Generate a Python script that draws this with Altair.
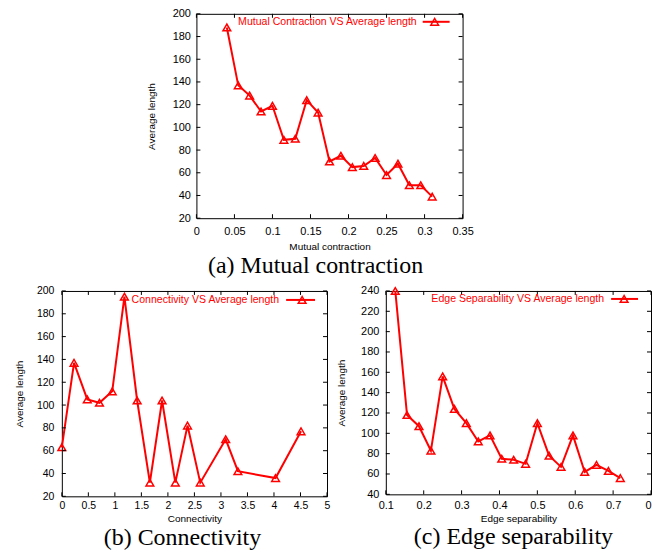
import altair as alt
import pandas as pd

# (a) Mutual contraction
mc_x = [0.04, 0.055, 0.07, 0.085, 0.1, 0.115, 0.13, 0.145, 0.16, 0.175, 0.19, 0.205, 0.22, 0.235, 0.25, 0.265, 0.28, 0.295, 0.31]
mc_y = [188, 137, 128, 114, 119, 89, 90, 124, 113, 70, 75, 65, 66, 73, 58, 68, 49, 49, 39]
mc_xticks = [0, 0.05, 0.1, 0.15, 0.2, 0.25, 0.3, 0.35]
mc_yticks = [20, 40, 60, 80, 100, 120, 140, 160, 180, 200]

# (b) Connectivity
cn_x = [0, 0.23, 0.48, 0.71, 0.95, 1.18, 1.42, 1.66, 1.89, 2.14, 2.37, 2.61, 3.09, 3.32, 4.03, 4.51]
cn_y = [63, 137, 105, 102, 112, 195, 104, 32, 104, 32, 82, 32, 70, 42, 36, 77]
cn_xticks = [0, 0.5, 1, 1.5, 2, 2.5, 3, 3.5, 4, 4.5, 5]
cn_yticks = [20, 40, 60, 80, 100, 120, 140, 160, 180, 200]

# (c) Edge separability
es_x = [0.125, 0.156, 0.1875, 0.219, 0.25, 0.281, 0.3125, 0.344, 0.375, 0.406, 0.4375, 0.469, 0.5, 0.531, 0.5625, 0.594, 0.625, 0.656, 0.6875, 0.719]
es_y = [240, 118, 107, 83, 156, 124, 110, 92, 98, 75, 74, 70, 110, 78, 67, 98, 62, 69, 63, 56]
es_xticks = [0.1, 0.2, 0.3, 0.4, 0.5, 0.6, 0.7, 0.8]
es_yticks = [40, 60, 80, 100, 120, 140, 160, 180, 200, 220, 240]

RED = "#ff0000"
TL = 4  # inner tick length


def panel(xs, ys, xdom, xticks, ydom, yticks, xtitle, legend, caption, W, H,
          lab_fs, lpad_x, tpad_x, lpad_y, tpad_y, cap_dx, cap_off,
          leg_txt, leg_l, leg_r, leg_pt, leg_y, xlabel_expr=None, last_right=False):
    df = pd.DataFrame({"x": xs, "y": ys})
    xsc = alt.Scale(domain=xdom, nice=False, zero=False)
    ysc = alt.Scale(domain=ydom, nice=False, zero=False)
    xkw = dict(values=xticks, format="~r", ticks=False, grid=False, domain=False,
               labelPadding=lpad_x, titlePadding=tpad_x, labelFlush=False,
               labelOverlap=False, labelFontSize=lab_fs, title=xtitle)
    if xlabel_expr:
        xkw["labelExpr"] = xlabel_expr
    if last_right:
        xkw["labelAlign"] = alt.condition("datum.value > 0.75", alt.value("right"), alt.value("center"))
    xaxis = alt.Axis(**xkw)
    yaxis = alt.Axis(values=yticks, format="~r", ticks=False, grid=False, domain=False,
                     labelPadding=lpad_y, titlePadding=tpad_y, labelFlush=False,
                     labelOverlap=False, labelFontSize=lab_fs, title="Average length")
    line = alt.Chart(df).mark_line(color=RED, strokeWidth=2).encode(
        x=alt.X("x:Q", scale=xsc, axis=xaxis),
        y=alt.Y("y:Q", scale=ysc, axis=yaxis),
    )
    pts = alt.Chart(df).mark_point(shape="triangle-up", filled=False, color=RED,
                                   size=60, strokeWidth=1.5, opacity=1).encode(
        x=alt.X("x:Q", scale=xsc, axis=xaxis),
        y=alt.Y("y:Q", scale=ysc, axis=yaxis),
    )
    ytk = pd.DataFrame({"y": yticks})
    xtk = pd.DataFrame({"x": xticks})
    yl = alt.Chart(ytk).mark_rule(color="black", strokeWidth=1).encode(
        y=alt.Y("y:Q", scale=ysc, axis=yaxis), x=alt.value(0), x2=alt.value(TL))
    yr = alt.Chart(ytk).mark_rule(color="black", strokeWidth=1).encode(
        y=alt.Y("y:Q", scale=ysc, axis=yaxis), x=alt.value(W - TL), x2=alt.value(W))
    xb = alt.Chart(xtk).mark_rule(color="black", strokeWidth=1).encode(
        x=alt.X("x:Q", scale=xsc, axis=xaxis), y=alt.value(H), y2=alt.value(H - TL))
    xt = alt.Chart(xtk).mark_rule(color="black", strokeWidth=1).encode(
        x=alt.X("x:Q", scale=xsc, axis=xaxis), y=alt.value(0), y2=alt.value(TL))
    leg = pd.DataFrame({"t": [legend]})
    lt = alt.Chart(leg).mark_text(align="right", baseline="middle", color=RED,
                                  fontSize=10.6, font="Liberation Sans").encode(
        text="t:N", x=alt.value(W - leg_txt), y=alt.value(leg_y))
    lr = alt.Chart(leg).mark_rule(color=RED, strokeWidth=2).encode(
        x=alt.value(W - leg_l), x2=alt.value(W - leg_r), y=alt.value(leg_y))
    lp = alt.Chart(leg).mark_point(shape="triangle-up", filled=False, color=RED,
                                   size=60, strokeWidth=1.5, opacity=1).encode(
        x=alt.value(W - leg_pt), y=alt.value(leg_y))
    return alt.layer(line, pts, yl, yr, xb, xt, lt, lr, lp).properties(
        width=W, height=H,
        title=alt.TitleParams(caption, orient="bottom", anchor="middle", frame="group",
                              dx=cap_dx, offset=cap_off, font="Liberation Serif",
                              fontSize=24, fontWeight="normal", color="black"),
    )


top = panel(mc_x, mc_y, [0, 0.35], mc_xticks, [20, 200], mc_yticks,
            "Mutual contraction", "Mutual Contraction VS Average length",
            "(a) Mutual contraction", 267, 205,
            11, 7.5, 5, 6, 16, -14, 2, 46, 40, 13, 28, 8)
bl = panel(cn_x, cn_y, [0, 5], cn_xticks, [20, 200], cn_yticks,
           "Connectivity", "Connectivity VS Average length",
           "(b) Connectivity", 266, 206,
           10.5, 4, 3, 8, 12, -12, 2, 48, 41, 12, 25, 9)
br = panel(es_x, es_y, [0.1, 0.8], es_xticks, [40, 240], es_yticks,
           "Edge separability", "Edge Separability VS Average length",
           "(c) Edge separability", 266, 204,
           11, 5, 3, 7, 14, -5, 2, 47, 40, 13, 27, 8,
           xlabel_expr="datum.value > 0.75 ? '0' : datum.label", last_right=True)

spacer = alt.Chart(pd.DataFrame({"a": [0]})).mark_point(opacity=0).properties(
    width=83, height=10, view=alt.ViewBackground(stroke="transparent"))

row1 = alt.hconcat(spacer, top, spacing=0)
row2 = alt.hconcat(bl, br, spacing=5)

chart = alt.vconcat(row1, row2, spacing=6).properties(
    padding={"left": 5, "top": -2, "right": 0, "bottom": 0}
).configure_axis(
    labelFont="Liberation Sans", titleFont="Liberation Sans",
    labelColor="black", titleColor="black", titleFontWeight="normal",
    titleFontSize=10,
).configure_view(stroke="black", strokeWidth=1)

chart.save("out.html", embed_options={"renderer": "svg", "actions": False})
